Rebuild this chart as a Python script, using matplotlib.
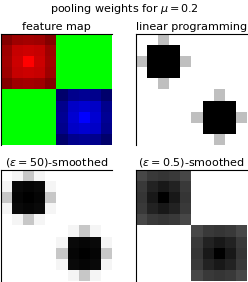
import numpy as np
import matplotlib
matplotlib.use("Agg")
import matplotlib.pyplot as plt

# ---- data (10x10 grids) ----
# intensity of the red block (top-left) and blue block (bottom-right), 5x5 each
red_block = np.array([
    [0.52, 0.62, 0.64, 0.62, 0.52],
    [0.62, 0.78, 0.80, 0.78, 0.62],
    [0.64, 0.80, 1.00, 0.80, 0.64],
    [0.62, 0.78, 0.80, 0.78, 0.62],
    [0.52, 0.62, 0.64, 0.62, 0.52],
])
blue_block = np.array([
    [0.42, 0.55, 0.58, 0.55, 0.42],
    [0.55, 0.78, 0.82, 0.78, 0.55],
    [0.58, 0.82, 1.00, 0.82, 0.58],
    [0.55, 0.78, 0.82, 0.78, 0.55],
    [0.42, 0.55, 0.58, 0.55, 0.42],
])
green_level = 1.0

# pooling weights around one peak (5x5), same pattern used for both peaks
lp_block = np.array([
    [0.00, 0.00, 0.25, 0.00, 0.00],
    [0.00, 1.00, 1.00, 1.00, 0.00],
    [0.25, 1.00, 1.00, 1.00, 0.25],
    [0.00, 1.00, 1.00, 1.00, 0.00],
    [0.00, 0.00, 0.25, 0.00, 0.00],
])
eps50_block = np.array([
    [0.00, 0.04, 0.22, 0.04, 0.00],
    [0.04, 0.96, 0.98, 0.96, 0.04],
    [0.22, 0.98, 1.00, 0.98, 0.22],
    [0.04, 0.96, 0.98, 0.96, 0.04],
    [0.00, 0.04, 0.22, 0.04, 0.00],
])
eps05_block = np.array([
    [0.72, 0.77, 0.79, 0.77, 0.72],
    [0.77, 0.86, 0.90, 0.86, 0.77],
    [0.79, 0.90, 1.00, 0.90, 0.79],
    [0.77, 0.86, 0.90, 0.86, 0.77],
    [0.72, 0.77, 0.79, 0.77, 0.72],
])

titles = ["feature map", "linear programming",
          r"$(\varepsilon = 50)$-smoothed", r"$(\varepsilon = 0.5)$-smoothed"]
suptitle = r"pooling weights for $\mu = 0.2$"


def two_peaks(block):
    img = np.zeros((10, 10))
    img[:5, :5] = block
    img[5:, 5:] = block
    return img


# feature map as RGB image
feat = np.zeros((10, 10, 3))
feat[:5, :5, 0] = red_block
feat[5:, 5:, 2] = blue_block
feat[:5, 5:, 1] = green_level
feat[5:, :5, 1] = green_level

fig = plt.figure(figsize=(2.48, 2.82), dpi=100)
plt.rcParams['font.family'] = 'DejaVu Sans'

W, H = 248, 282
boxes = [  # left, top, size in pixels
    (1, 34), (136, 34), (1, 170), (136, 170)]
size = 111

panels = [feat, two_peaks(lp_block), two_peaks(eps50_block), two_peaks(eps05_block)]
for (x0, y0), img, title in zip(boxes, panels, titles):
    ax = fig.add_axes([x0 / W, 1 - (y0 + size) / H, size / W, size / H])
    if img.ndim == 3:
        ax.imshow(img, interpolation='nearest', aspect='auto')
    else:
        ax.imshow(img, cmap='gray_r', vmin=0, vmax=1, interpolation='nearest', aspect='auto')
    ax.set_xticks([])
    ax.set_yticks([])
    ax.spines['right'].set_visible(False)
    ax.spines['bottom'].set_visible(False)
    ax.set_title(title, fontsize=8, pad=3)

fig.text(0.5, 1 - 9 / H, suptitle, ha='center', va='center', fontsize=8)

fig.savefig("out.png", dpi=100)
